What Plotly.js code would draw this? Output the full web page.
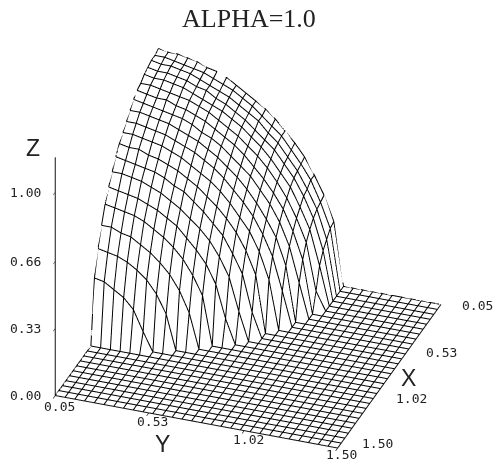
<!DOCTYPE html>
<html>
<head>
<meta charset="utf-8">
<script src="https://cdn.plot.ly/plotly-3.0.1.min.js"></script>
<style>html,body{margin:0;padding:0;background:#fff}#chart{width:493px;height:459px}</style>
</head>
<body>
<div id="chart"></div>
<script>
var chartTitle = 'ALPHA=1.0';
var xValues = [0.05,0.10,0.15,0.20,0.25,0.30,0.35,0.40,0.45,0.50,0.55,0.60,0.65,0.70,0.75,0.80,0.85,0.90,0.95,1.00,1.05,1.10,1.15,1.20,1.25,1.30,1.35,1.40,1.45,1.50];
var yValues = xValues.slice();
var xTicks = [0.05,0.53,1.02,1.50];
var yTicks = [0.05,0.53,1.02,1.50];
var zTicks = [0.00,0.33,0.66,1.00];
var zTickLabels = ['0.00','0.33','0.66','1.00'];
var xyTickLabels = ['0.05','0.53','1.02','1.50'];
var zRows = [
[1.00,.99,.99,.98,.97,.95,.94,.92,.89,.86,.83,.80,.76,.71,.66,.60,.52,.43,.31],
[.99,.99,.98,.97,.96,.95,.93,.91,.89,.86,.83,.79,.75,.71,.65,.59,.52,.42,.30],
[.99,.98,.98,.97,.96,.94,.92,.90,.88,.85,.82,.79,.74,.70,.64,.58,.50,.41,.27],
[.98,.97,.97,.96,.95,.93,.92,.89,.87,.84,.81,.77,.73,.69,.63,.57,.49,.39,.24],
[.97,.96,.96,.95,.94,.92,.90,.88,.86,.83,.80,.76,.72,.67,.61,.55,.46,.36,.19],
[.95,.95,.94,.93,.92,.91,.89,.87,.84,.81,.78,.74,.70,.65,.59,.52,.43,.32,.09],
[.94,.93,.92,.92,.90,.89,.87,.85,.82,.79,.76,.72,.67,.62,.56,.49,.39,.26],
[.92,.91,.90,.89,.88,.87,.85,.82,.80,.77,.73,.69,.65,.59,.53,.45,.34,.17],
[.89,.89,.88,.87,.86,.84,.82,.80,.77,.74,.70,.66,.61,.55,.48,.40,.27],
[.86,.86,.85,.84,.83,.81,.79,.77,.74,.71,.67,.62,.57,.51,.43,.33,.17],
[.83,.83,.82,.81,.80,.78,.76,.73,.70,.67,.63,.58,.52,.46,.37,.24],
[.80,.79,.79,.77,.76,.74,.72,.69,.66,.62,.58,.53,.47,.39,.28],
[.76,.75,.74,.73,.72,.70,.67,.65,.61,.57,.52,.47,.39,.30,.12],
[.71,.71,.70,.69,.67,.65,.62,.59,.55,.51,.46,.39,.30,.14],
[.66,.65,.64,.63,.61,.59,.56,.53,.48,.43,.37,.28,.12],
[.60,.59,.58,.57,.55,.52,.49,.45,.40,.33,.24],
[.52,.52,.50,.49,.46,.43,.39,.34,.27,.17],
[.43,.42,.41,.39,.36,.32,.26,.17],
[.31,.30,.27,.24,.19,.09]
];
var zGrid = yValues.map(function(_, j){
  return xValues.map(function(_, i){
    var row = zRows[i] || [];
    return j < row.length ? row[j] : 0;
  });
});
// White hiding sheet sits a hair under the mesh so the lines never fight it for depth.
var sheetDrop = 0.012;
var zSheet = zGrid.map(function(row){ return row.map(function(v){ return v - sheetDrop; }); });
var lx = [], ly = [], lz = [];
xValues.forEach(function(xv, i){
  yValues.forEach(function(yv, j){ lx.push(xv); ly.push(yv); lz.push(zGrid[j][i]); });
  lx.push(null); ly.push(null); lz.push(null);
});
yValues.forEach(function(yv, j){
  xValues.forEach(function(xv, i){ lx.push(xv); ly.push(yv); lz.push(zGrid[j][i]); });
  lx.push(null); ly.push(null); lz.push(null);
});
var axisBase = {
  showbackground:false, showgrid:false, zeroline:false, showspikes:false,
  showline:true, linecolor:'#111', linewidth:2,
  ticks:'outside', ticklen:6, tickcolor:'#111', tickwidth:1.5,
  showticklabels:false, tickmode:'array', title:{text:''}
};
var titleFont = {family:'Liberation Sans', size:23, color:'#222'};
var tickFont = {family:'DejaVu Sans Mono', size:13, color:'#222'};
function tickNote(x, y, z, text, xshift, yshift){
  return {x:x, y:y, z:z, text:text, showarrow:false, xanchor:'center', yanchor:'middle', xshift:xshift, yshift:yshift, font:tickFont};
}
var notes = [
  {x:1.5,y:0.05,z:1.17,text:'Z',showarrow:false,xshift:-22,yshift:9,font:titleFont},
  {x:1.5,y:0.775,z:0,text:'Y',showarrow:false,xshift:-34,yshift:-22,font:titleFont},
  {x:0.775,y:1.5,z:0,text:'X',showarrow:false,xshift:19,yshift:-2,font:titleFont}
];
var xLabelDx = [37,35,40,40], xLabelDy = [-1,-1,2,5], yLabelDy = [-11,-9,-9,-6];
xTicks.forEach(function(t, k){ notes.push(tickNote(t, 1.5, 0, xyTickLabels[k], xLabelDx[k], xLabelDy[k])); });
yTicks.forEach(function(t, k){ notes.push(tickNote(1.5, t, 0, xyTickLabels[k], 4, yLabelDy[k])); });
zTicks.forEach(function(t, k){ notes.push(tickNote(1.5, 0.05, t, zTickLabels[k], -30, 0)); });

var data = [{
  type:'surface', x:xValues, y:yValues, z:zSheet,
  colorscale:[[0,'#fff'],[1,'#fff']], showscale:false, hoverinfo:'skip',
  lighting:{ambient:1,diffuse:0,specular:0,roughness:1,fresnel:0}
},{
  type:'scatter3d', mode:'lines', x:lx, y:ly, z:lz, hoverinfo:'skip',
  line:{color:'#000', width:2}, connectgaps:false
}];
var layout = {
  width:493, height:459, margin:{l:0,r:0,t:0,b:0},
  paper_bgcolor:'#fff', showlegend:false,
  title:{text:chartTitle, x:0.505, xanchor:'center', y:0.96, yanchor:'middle',
         font:{family:'Liberation Serif', size:26, color:'#222'}},
  scene:{
    domain:{x:[0,1],y:[0,1]},
    aspectmode:'manual', aspectratio:{x:1.31,y:1.31,z:1.205},
    camera:{
      projection:{type:'orthographic'},
      eye:{x:1.47,y:0.53,z:0.93}, center:{x:0.0005,y:-0.0072,z:0.006}, up:{x:0,y:0,z:1}
    },
    xaxis:Object.assign({},axisBase,{range:[0.05,1.5],tickvals:xTicks}),
    yaxis:Object.assign({},axisBase,{range:[0.05,1.5],tickvals:yTicks,ticklen:0}),
    zaxis:Object.assign({},axisBase,{range:[0,1.17],tickvals:zTicks}),
    annotations:notes
  }
};
Plotly.newPlot('chart', data, layout, {displayModeBar:false});
</script>
</body>
</html>
